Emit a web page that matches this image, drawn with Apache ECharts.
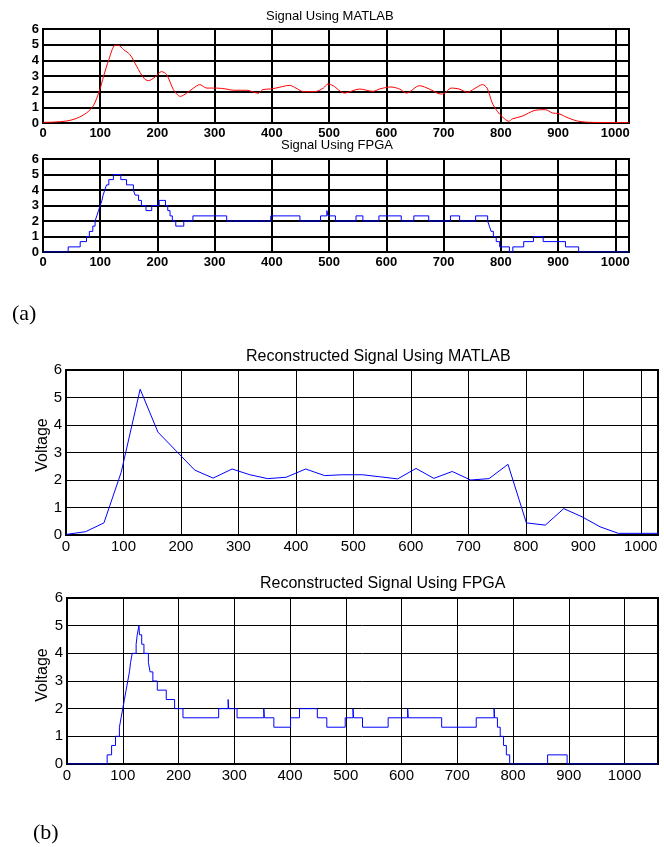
<!DOCTYPE html>
<html>
<head>
<meta charset="utf-8" />
<title>Signal Using MATLAB / FPGA</title>
<script src="https://cdn.jsdelivr.net/npm/echarts@6/dist/echarts.min.js"></script>
<style>
  html, body { margin: 0; padding: 0; background: #fff; }
</style>
</head>
<body>
<div id="main" style="width: 664px;height:847px;"></div>
<script type="text/javascript">
// tick labels shared by all four panels
var xTicks = [0, 100, 200, 300, 400, 500, 600, 700, 800, 900, 1000];
var yTicks = [0, 1, 2, 3, 4, 5, 6];

// (a) top - Signal Using MATLAB (smooth, red)
var sigMatlabX = [0, 20, 42, 59, 76, 88, 99, 106, 115, 126, 132, 141, 152, 164, 176, 184, 196, 207, 216, 228,
  240, 251, 263, 274, 286, 303, 320, 333, 356, 376, 384, 397, 407, 431, 442, 455, 475, 490, 498, 507,
  527, 553, 577, 588, 608, 623, 635, 658, 675, 695, 701, 713, 727, 742, 753, 768, 776, 785, 794, 803,
  814, 820, 837, 860, 878, 890, 901, 918, 936, 959, 1000, 1024];
var sigMatlabY = [0.04, 0.06, 0.13, 0.3, 0.64, 1.1, 2.1, 3.0, 4.04, 4.96, 4.96, 4.68, 4.36, 3.6, 2.87, 2.7, 2.94, 3.28, 3.09, 2.13,
  1.7, 1.9, 2.23, 2.45, 2.23, 2.23, 2.17, 2.09, 2.09, 1.9, 2.13, 2.17, 2.23, 2.4, 2.23, 2.0, 2.0, 2.23, 2.49, 2.38,
  1.91, 2.17, 2.02, 2.17, 2.3, 2.17, 1.91, 2.38, 2.17, 1.85, 1.87, 2.23, 2.17, 1.96, 2.17, 2.45, 2.23, 1.28, 0.74, 0.38,
  0.11, 0.26, 0.43, 0.81, 0.85, 0.64, 0.6, 0.32, 0.11, 0.04, 0.03, 0.03];

// (a) bottom - Signal Using FPGA (steps: level held from x until next x)
var sigFpgaX = [0, 44, 65, 76, 81, 87, 91, 94, 97, 100, 103, 105, 108, 111, 115, 123, 136, 146, 158, 161,
  167, 172, 180, 190, 203, 214, 218, 222, 226, 232, 246, 262, 321, 398, 449, 485, 496, 498, 511, 547,
  559, 587, 626, 648, 674, 712, 728, 756, 777, 780, 783, 787, 792, 798, 815, 821, 840, 857, 874, 913,
  936, 1024];
var sigFpgaY = [0, 0.33, 0.67, 1, 1.33, 1.67, 2, 2.33, 2.67, 3, 3.33, 3.67, 4, 4.33, 4.67, 5, 4.67, 4.33, 4, 3.67,
  3.33, 3, 2.67, 3, 3.33, 3, 2.67, 2.33, 2, 1.67, 2, 2.33, 2, 2.33, 2, 2.33, 2.67, 2.33, 2, 2.33,
  2, 2.33, 2, 2.33, 2, 2.33, 2, 2.33, 2, 1.67, 1.33, 1, 0.67, 0.33, 0, 0.33, 0.67, 1, 0.67, 0.33,
  0, 0];

// (b) top - Reconstructed Signal Using MATLAB (piecewise linear)
var recMatlabX = [0, 34, 66, 96, 129, 160, 192, 224, 256, 289, 320, 351, 383, 417, 450, 480, 516, 545, 577, 609,
  640, 672, 704, 736, 769, 801, 834, 866, 898, 929, 961, 1030];
var recMatlabY = [0.02, 0.12, 0.44, 2.28, 5.3, 3.74, 3.05, 2.36, 2.07, 2.4, 2.19, 2.05, 2.1, 2.4, 2.16, 2.19, 2.19, 2.12, 2.04, 2.42,
  2.06, 2.31, 2.0, 2.05, 2.57, 0.44, 0.36, 0.96, 0.66, 0.3, 0.06, 0.06];

// (b) bottom - Reconstructed Signal Using FPGA (steps)
var recFpgaX = [0, 72, 80, 87, 94, 97, 100, 103, 106, 109, 112, 114, 117, 124, 126, 129, 130, 134, 138, 146,
  149, 154, 162, 178, 193, 208, 272, 289, 290, 305, 353, 354, 371, 401, 417, 449, 466, 499, 513, 514,
  530, 576, 611, 612, 672, 734, 766, 767, 772, 777, 783, 788, 794, 862, 897, 1060];
var recFpgaY = [0, 0.33, 0.67, 1, 1.33, 1.67, 2, 2.33, 2.67, 3, 3.33, 3.67, 4, 4.33, 4.67, 5, 4.67, 4.33, 4, 3.67,
  3.33, 3, 2.67, 2.33, 2, 1.67, 2, 2.33, 2, 1.67, 2, 1.67, 1.33, 1.67, 2, 1.67, 1.33, 1.67, 2, 1.67,
  1.33, 1.67, 2, 1.67, 1.33, 1.67, 2, 1.67, 1.33, 1, 0.67, 0.33, 0, 0.33, 0, 0];

function pairs(xs, ys) {
  return xs.map(function (x, i) { return [x, ys[i]]; });
}

var FONT = 'Liberation Sans, Arial, sans-serif';

// panel boxes: left, top, width, height, x max, label size, line width
var panels = [
  { left: 43, top: 29,  width: 586, height: 94,  xMax: 1024, fs: 13, bold: 'bold', lw: 2 },
  { left: 43, top: 159, width: 586, height: 93,  xMax: 1024, fs: 13, bold: 'bold', lw: 2 },
  { left: 66, top: 370, width: 592, height: 165, xMax: 1030, fs: 15, bold: 'normal', lw: 1 },
  { left: 67, top: 598, width: 591, height: 166, xMax: 1060, fs: 15, bold: 'normal', lw: 1 }
];

var myChart = echarts.init(document.getElementById('main'));

var option = {
  backgroundColor: '#fff',
  animation: false,
  title: [
    { text: 'Signal Using MATLAB', left: 266, top: 10 },
    { text: 'Signal Using FPGA', left: 281, top: 139 },
    { text: 'Reconstructed Signal Using MATLAB', left: 246, top: 349 },
    { text: 'Reconstructed Signal Using FPGA', left: 260, top: 576 }
  ].map(function (t, i) {
    t.padding = 0;
    t.textStyle = { fontFamily: FONT, fontSize: i < 2 ? 13 : 16, fontWeight: 'normal', color: '#000' };
    return t;
  }),
  grid: panels.map(function (p) {
    return {
      left: p.left, top: p.top, width: p.width, height: p.height,
      show: true, borderColor: '#000', borderWidth: 2, backgroundColor: '#fff',
      containLabel: false, outerBoundsMode: 'none'
    };
  }),
  xAxis: panels.map(function (p, i) {
    return {
      type: 'value', gridIndex: i, min: 0, max: p.xMax, interval: 100,
      axisLine: { show: true, onZero: false, lineStyle: { color: '#000', width: 2 } },
      axisTick: { show: false },
      axisLabel: {
        color: '#000', fontFamily: FONT, fontSize: p.fs, fontWeight: p.bold, margin: 4,
        showMaxLabel: false,
        formatter: function (v) { return xTicks.indexOf(v) >= 0 ? String(v) : ''; }
      },
      splitLine: { show: true, lineStyle: { color: '#000', width: p.lw } }
    };
  }),
  yAxis: panels.map(function (p, i) {
    return {
      type: 'value', gridIndex: i, min: 0, max: 6, interval: 1,
      axisLine: { show: true, lineStyle: { color: '#000', width: 2 } },
      axisTick: { show: false },
      axisLabel: {
        color: '#000', fontFamily: FONT, fontSize: p.fs, fontWeight: p.bold, margin: 4,
        formatter: function (v) { return yTicks.indexOf(v) >= 0 ? String(v) : ''; }
      },
      splitLine: { show: true, lineStyle: { color: '#000', width: p.lw } }
    };
  }),
  graphic: [
    { type: 'text', left: 12, top: 303, style: { text: '(a)', font: '22px "Liberation Serif", "Times New Roman", serif', fill: '#000' } },
    { type: 'text', left: 33, top: 822, style: { text: '(b)', font: '22px "Liberation Serif", "Times New Roman", serif', fill: '#000' } },
    { type: 'text', x: 43, y: 445, rotation: Math.PI / 2,
      style: { text: 'Voltage', font: '16px ' + FONT, fill: '#000', textAlign: 'center', textVerticalAlign: 'middle' } },
    { type: 'text', x: 43, y: 675, rotation: Math.PI / 2,
      style: { text: 'Voltage', font: '16px ' + FONT, fill: '#000', textAlign: 'center', textVerticalAlign: 'middle' } }
  ],
  series: [
    {
      type: 'line', xAxisIndex: 0, yAxisIndex: 0, data: pairs(sigMatlabX, sigMatlabY),
      smooth: 0.3, showSymbol: false, lineStyle: { color: '#ff0000', width: 1 }, z: 5
    },
    {
      type: 'line', xAxisIndex: 1, yAxisIndex: 1, data: pairs(sigFpgaX, sigFpgaY),
      step: 'end', showSymbol: false, lineStyle: { color: '#0000ff', width: 1 }, z: 5
    },
    {
      type: 'line', xAxisIndex: 2, yAxisIndex: 2, data: pairs(recMatlabX, recMatlabY),
      showSymbol: false, lineStyle: { color: '#0000ff', width: 1 }, z: 5
    },
    {
      type: 'line', xAxisIndex: 3, yAxisIndex: 3, data: pairs(recFpgaX, recFpgaY),
      step: 'end', showSymbol: false, lineStyle: { color: '#0000ff', width: 1 }, z: 5
    }
  ]
};

myChart.setOption(option);
</script>
</body>
</html>
